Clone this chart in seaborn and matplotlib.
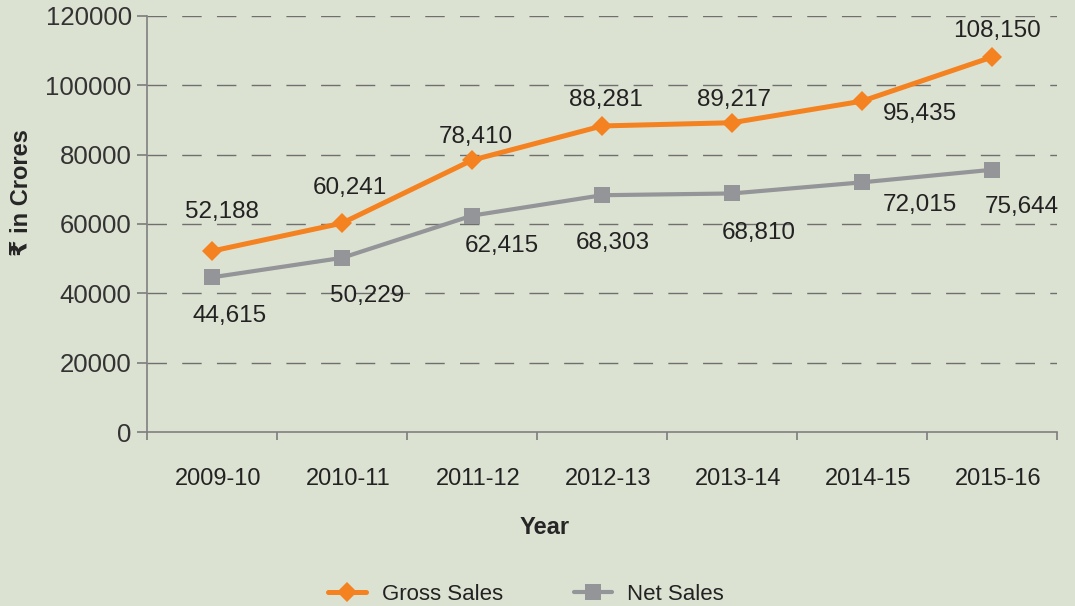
import numpy as np
import pandas as pd
import matplotlib
matplotlib.use("Agg")
import matplotlib.pyplot as plt
import matplotlib.transforms as mtransforms
import seaborn as sns

# data
years = ["2009-10", "2010-11", "2011-12", "2012-13", "2013-14", "2014-15", "2015-16"]
gross_sales = [52188, 60241, 78410, 88281, 89217, 95435, 108150]
net_sales = [44615, 50229, 62415, 68303, 68810, 72015, 75644]

# label offsets in pixels (dx, dy up)
gross_offsets = [(10, 39), (8, 35), (4, 23), (4, 26), (2, 23), (58, -13), (5, 26)]
net_offsets = [(18, -39), (25, -38), (30, -30), (11, -48), (27, -40), (58, -23), (30, -37)]

bg = "#dce2d2"
orange = "#f58220"
grey = "#939598"

sns.set_theme(style="white")
plt.rcParams['font.family'] = ['Liberation Sans', 'DejaVu Sans']
plt.rcParams['text.color'] = '#222222'

df = pd.DataFrame({"pos": np.arange(len(years)), "gross": gross_sales, "net": net_sales})

fig = plt.figure(figsize=(10.75, 6.06), dpi=100, facecolor=bg)
ax = fig.add_axes([147 / 1075, 1 - 432 / 606, 910 / 1075, 416 / 606])
ax.set_facecolor(bg)

sns.lineplot(data=df, x="pos", y="gross", ax=ax, color=orange, lw=3.6, marker="D",
             markersize=10.5, markeredgewidth=0, label="Gross Sales")
sns.lineplot(data=df, x="pos", y="net", ax=ax, color=grey, lw=3.0, marker="s",
             markersize=12, markeredgewidth=0, label="Net Sales")

for i in range(len(years)):
    ax.annotate(f"{gross_sales[i]:,}", (i, gross_sales[i]), xytext=gross_offsets[i],
                textcoords="offset pixels", ha="center", va="center", fontsize=17.5)
    ax.annotate(f"{net_sales[i]:,}", (i, net_sales[i]), xytext=net_offsets[i],
                textcoords="offset pixels", ha="center", va="center", fontsize=17.5)

ax.set_xlim(-0.5, len(years) - 0.5)
ax.set_ylim(0, 120000)
ax.set_yticks(np.arange(0, 120001, 20000))
ax.set_yticklabels([str(v) for v in range(0, 120001, 20000)], fontsize=18.5, color="#333333")
for y in range(20000, 120001, 20000):
    ax.axhline(y, color="#6f6f6f", lw=1, ls=(0, (14, 11)), zorder=0)

# ticks between categories, labels centred
ax.set_xticks(np.arange(-0.5, len(years), 1))
ax.set_xticklabels([])
ax.set_xticks(np.arange(len(years)), minor=True)
ax.set_xticklabels(years, minor=True, fontsize=17, color="#222222")
ax.tick_params(axis="x", which="minor", length=0, pad=26)
ax.tick_params(axis="x", which="major", length=6, color="#808080", direction="out", bottom=True)
ax.tick_params(axis="y", length=7, color="#808080", direction="out", left=True, pad=4)
shift = mtransforms.ScaledTranslation(6 / 100, 0, fig.dpi_scale_trans)
for lab in ax.get_xticklabels(minor=True):
    lab.set_transform(lab.get_transform() + shift)

for s in ["top", "right"]:
    ax.spines[s].set_visible(False)
for s in ["left", "bottom"]:
    ax.spines[s].set_color("#808080")
    ax.spines[s].set_linewidth(1.2)

ax.set_xlabel("Year", fontsize=17, fontweight="bold")
ax.set_ylabel("₹ in Crores", fontsize=17, fontweight="bold")
ax.xaxis.set_label_coords((545 - 147) / 910, (432 - 516) / 416)
ax.yaxis.set_label_coords((10 - 147) / 910, (432 - 193) / 416)
ax.yaxis.label.set_va("top")

handles, labels = ax.get_legend_handles_labels()
ax.get_legend().remove()
fig.legend(handles, labels, loc="center", bbox_to_anchor=(526 / 1075, 1 - 594 / 606), ncol=2,
           frameon=False, fontsize=16, handlelength=1.7, handletextpad=0.7, columnspacing=3.2)

fig.savefig("out.png", dpi=100, facecolor=bg)
